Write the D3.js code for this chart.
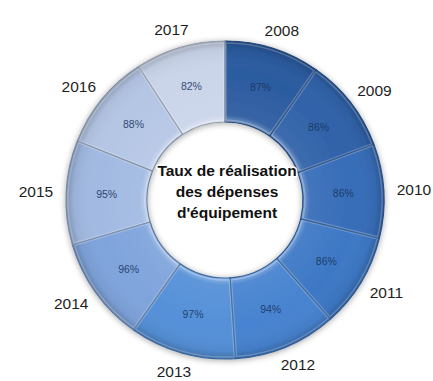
<!DOCTYPE html>
<html>
<head>
<meta charset="utf-8">
<script src="https://cdn.jsdelivr.net/npm/d3@7"></script>
<style>
  html, body { margin: 0; padding: 0; background: #ffffff; }
  svg { display: block; }
</style>
</head>
<body>
<svg id="chart" width="433" height="381"></svg>
<script>
// Taux de réalisation des dépenses d'équipement, 2008–2017
const years = ["2008", "2009", "2010", "2011", "2012", "2013", "2014", "2015", "2016", "2017"];
const rates = [87, 86, 86, 86, 94, 97, 96, 95, 88, 82];
const sliceColors = ["#2b5ba0", "#3062a9", "#376db8", "#3d78c5", "#4783d0", "#5590d8", "#7fa4dc", "#a2bae2", "#b5c6e5", "#cad5ea"];
const centerTitle = ["Taux de réalisation", "des dépenses", "d'équipement"];

const width = 433, height = 381;
const cx = 225, cy = 200;
const outerR = 159, innerR = 78;

const svg = d3.select("#chart");
const defs = svg.append("defs");

// soft halo around the ring
const shadow = defs.append("filter").attr("id", "halo")
  .attr("x", "-20%").attr("y", "-20%").attr("width", "140%").attr("height", "140%");
shadow.append("feGaussianBlur").attr("in", "SourceAlpha").attr("stdDeviation", 3).attr("result", "b");
shadow.append("feOffset").attr("in", "b").attr("dx", 0).attr("dy", 1).attr("result", "o");
shadow.append("feComponentTransfer").attr("in", "o").attr("result", "s")
  .append("feFuncA").attr("type", "linear").attr("slope", 0.35);
const merge = shadow.append("feMerge");
merge.append("feMergeNode").attr("in", "s");
merge.append("feMergeNode").attr("in", "SourceGraphic");

// radial shading across the ring width: light inner bevel, darker outer rim
const shade = defs.append("radialGradient").attr("id", "ringShade")
  .attr("gradientUnits", "userSpaceOnUse")
  .attr("cx", 0).attr("cy", 0).attr("r", outerR);
[
  [innerR / outerR, "#ffffff", 0.35],
  [(innerR + 7) / outerR, "#ffffff", 0.06],
  [0.8, "#ffffff", 0],
  [0.95, "#000000", 0.05],
  [1, "#000000", 0.22]
].forEach(([o, c, a]) => shade.append("stop")
  .attr("offset", o).attr("stop-color", c).attr("stop-opacity", a));

const data = years.map((y, i) => ({ year: y, rate: rates[i], color: sliceColors[i] }));

const pie = d3.pie().value(d => d.rate).sort(null);
const arcs = pie(data);
const arc = d3.arc().innerRadius(innerR).outerRadius(outerR);

const g = svg.append("g").attr("transform", `translate(${cx},${cy})`);

const ring = g.append("g").attr("filter", "url(#halo)");
ring.selectAll("path.slice")
  .data(arcs)
  .join("path")
  .attr("class", "slice")
  .attr("d", arc)
  .attr("fill", d => d.data.color);

// shading overlay
ring.selectAll("path.shade")
  .data(arcs)
  .join("path")
  .attr("class", "shade")
  .attr("d", arc)
  .attr("fill", "url(#ringShade)");

// slice separators: dark line with a light bevel edge
ring.selectAll("path.edge")
  .data(arcs)
  .join("path")
  .attr("class", "edge")
  .attr("d", arc)
  .attr("fill", "none")
  .attr("stroke", d => d3.color(d.data.color).darker(0.9))
  .attr("stroke-width", 1.2)
  .attr("stroke-linejoin", "round");

const bevel = d3.arc().innerRadius(innerR + 2).outerRadius(outerR - 2).padAngle(0.012);
ring.selectAll("path.bevel")
  .data(arcs)
  .join("path")
  .attr("class", "bevel")
  .attr("d", bevel)
  .attr("fill", "none")
  .attr("stroke", "#ffffff")
  .attr("stroke-opacity", 0.22)
  .attr("stroke-width", 1.5);

// percentage labels inside the ring
const mid = d3.arc().innerRadius((innerR + outerR) / 2).outerRadius((innerR + outerR) / 2);
g.selectAll("text.pct")
  .data(arcs)
  .join("text")
  .attr("class", "pct")
  .attr("transform", d => `translate(${mid.centroid(d)})`)
  .attr("text-anchor", "middle")
  .attr("dy", "0.35em")
  .attr("font-family", "Liberation Sans, Arial, sans-serif")
  .attr("font-size", 10.5)
  .attr("fill", "#1a3560")
  .attr("fill-opacity", 0.9)
  .text(d => d.data.rate + "%");

// year labels around the ring
const labelR = outerR + 13;
const yearLabels = g.selectAll("text.year")
  .data(arcs)
  .join("text")
  .attr("class", "year")
  .attr("font-family", "Liberation Sans, Arial, sans-serif")
  .attr("font-size", 15.5)
  .attr("fill", "#1e1e1e")
  .attr("text-anchor", "middle")
  .attr("dy", "0.35em")
  .text(d => d.data.year);

yearLabels.attr("x", function (d) {
  const a = (d.startAngle + d.endAngle) / 2;
  const w = this.getComputedTextLength();
  return Math.sin(a) * labelR + Math.sin(a) * w / 2;
}).attr("y", d => {
  const a = (d.startAngle + d.endAngle) / 2;
  return -Math.cos(a) * labelR - Math.cos(a) * 6;
});

// centre title with a white outline behind the dark bold text
const titleLines = (sel) => sel.selectAll("tspan")
  .data(centerTitle)
  .join("tspan")
  .attr("x", 2)
  .attr("y", (d, i) => -30 + i * 21 + 6)
  .text(d => d);

const titleStyle = (t) => t
  .attr("text-anchor", "middle")
  .style("font-family", "'Liberation Sans', Arial, sans-serif")
  .style("font-weight", "700")
  .style("font-size", "15.5px");

g.append("text").call(titleStyle)
  .attr("fill", "#ffffff")
  .attr("stroke", "#ffffff")
  .attr("stroke-width", 3)
  .attr("stroke-linejoin", "round")
  .call(titleLines);

g.append("text").call(titleStyle)
  .attr("fill", "#111111")
  .call(titleLines);
</script>
</body>
</html>
